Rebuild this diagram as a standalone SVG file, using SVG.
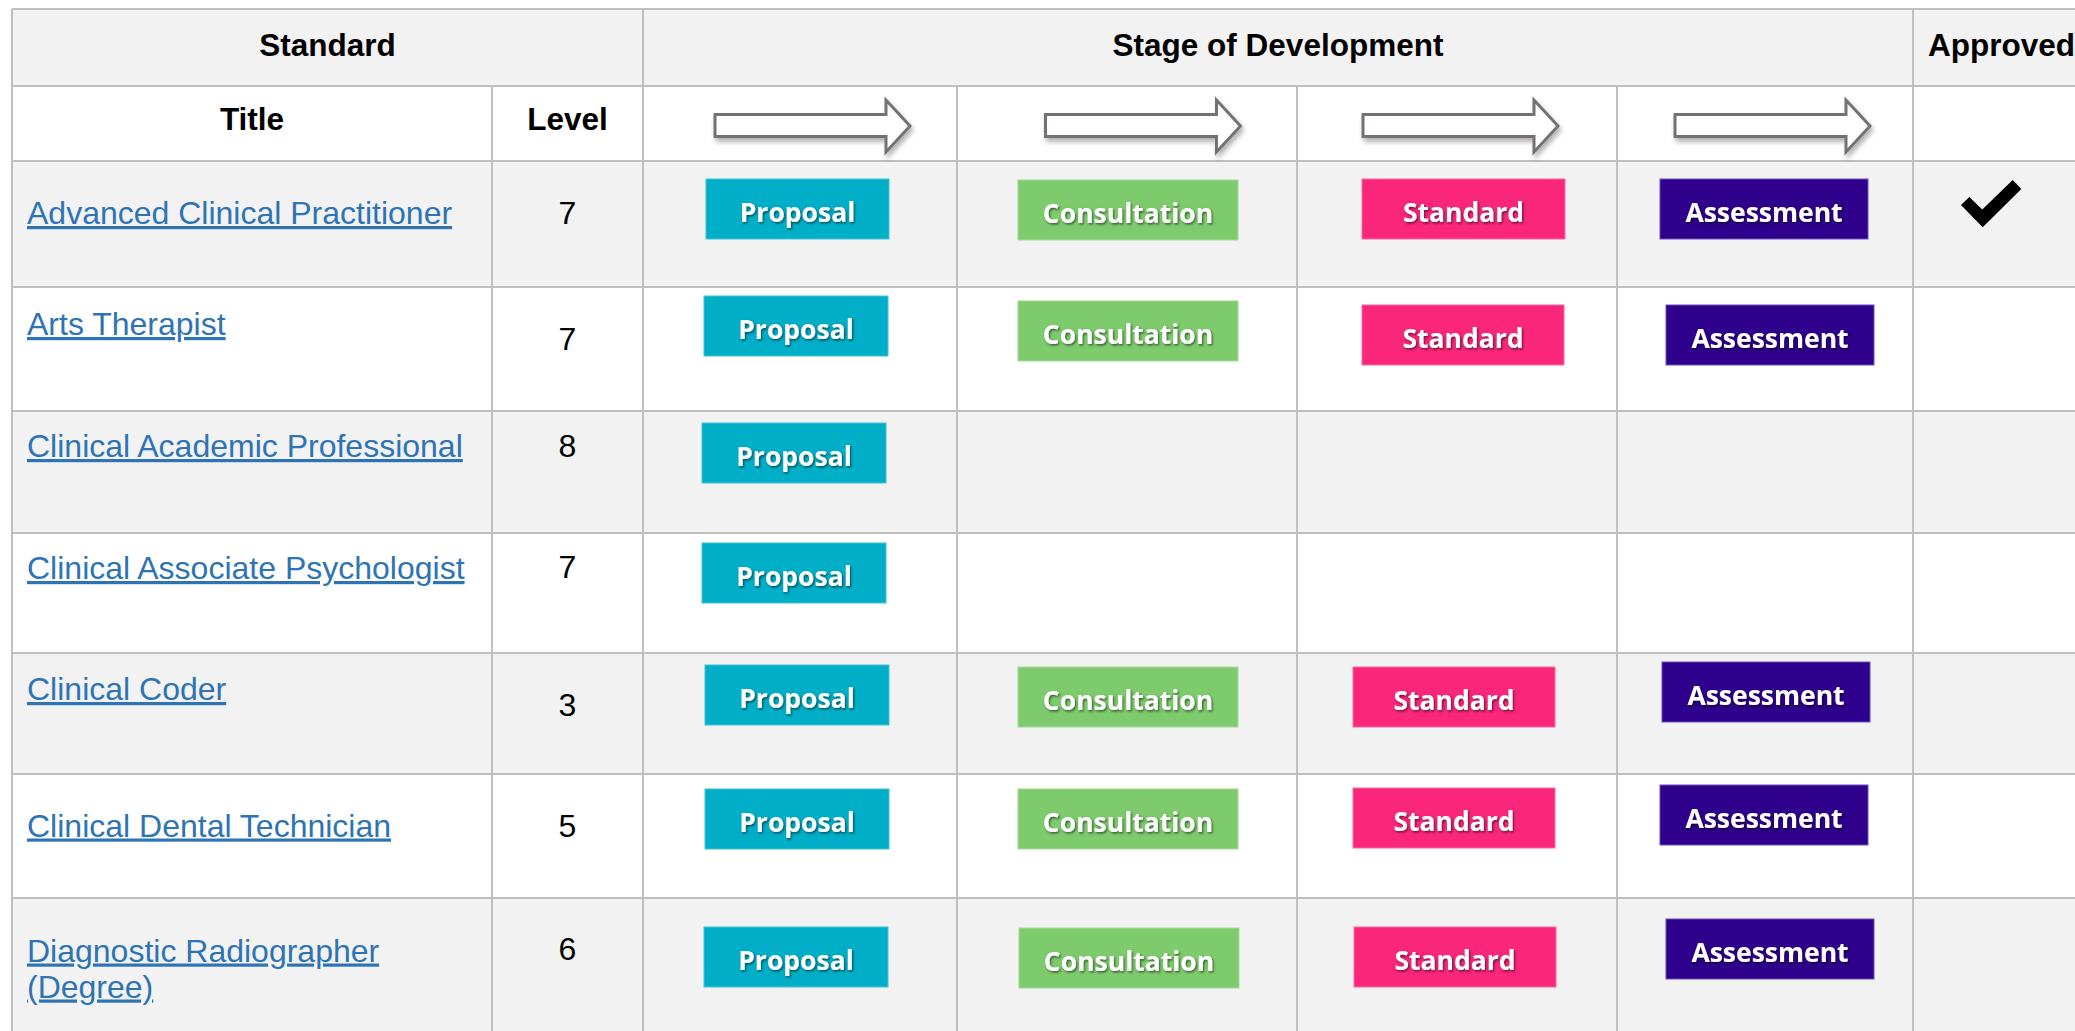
<svg xmlns="http://www.w3.org/2000/svg" width="2075" height="1031" viewBox="0 0 2075 1031">
<defs>
<style>
.hdr{font-family:"Liberation Sans",Arial,sans-serif;font-size:31.5px;font-weight:bold;fill:#000}
.ttl{font-family:"Liberation Sans",Arial,sans-serif;font-size:32px;fill:#2E74B5;text-decoration:underline}
.lvl{font-family:"Liberation Sans",Arial,sans-serif;font-size:32px;fill:#000;text-anchor:middle}
.c{text-anchor:middle}
.grid{stroke:#BFBFBF;stroke-width:2;fill:none}
.bt{font-family:"Open Sans","Noto Sans",sans-serif;font-size:26.5px;font-weight:bold;fill:#fff;text-anchor:middle;filter:url(#tsh)}
.pro{fill:#00AEC7;stroke:#40C4D6;stroke-width:1}
.con{fill:#7DCB6C;stroke:#A5DA98;stroke-width:1}
.std{fill:#F92679;stroke:#FB6AA3;stroke-width:1}
.ass{fill:#2E008B;stroke:#6A4FC0;stroke-width:1}
.arr{fill:#fff;stroke:#767171;stroke-width:3;filter:url(#ash)}
</style>
<filter id="tsh" x="-10%" y="-20%" width="120%" height="150%">
<feDropShadow dx="1.2" dy="1.5" stdDeviation="0.9" flood-color="#000" flood-opacity="0.55"/>
</filter>
<filter id="ash" x="-10%" y="-30%" width="130%" height="180%">
<feDropShadow dx="2" dy="4" stdDeviation="2.5" flood-color="#000" flood-opacity="0.3"/>
</filter>
<path id="arrow" d="M0,114.5 H171 V100 L195,126 L171,152 V136.5 H0 Z"/>
</defs>

<g id="backgrounds">
<rect x="12" y="9" width="2063" height="77" fill="#F2F2F2"/>
<rect x="12" y="86" width="2063" height="75" fill="#FFFFFF"/>
<rect x="12" y="161" width="2063" height="126" fill="#F2F2F2"/>
<rect x="12" y="287" width="2063" height="124" fill="#FFFFFF"/>
<rect x="12" y="411" width="2063" height="122" fill="#F2F2F2"/>
<rect x="12" y="533" width="2063" height="120" fill="#FFFFFF"/>
<rect x="12" y="653" width="2063" height="121" fill="#F2F2F2"/>
<rect x="12" y="774" width="2063" height="124" fill="#FFFFFF"/>
<rect x="12" y="898" width="2063" height="133" fill="#F2F2F2"/>
</g>

<g id="grid" class="grid">
<path d="M12,9 H2075 M12,86 H2075 M12,161 H2075 M12,287 H2075 M12,411 H2075 M12,533 H2075 M12,653 H2075 M12,774 H2075 M12,898 H2075"/>
<path d="M12,9 V1031 M643,9 V1031 M1913,9 V1031 M492,86 V1031 M957,86 V1031 M1297,86 V1031 M1617,86 V1031"/>
</g>

<g id="header">
<text class="hdr c" x="327.5" y="56">Standard</text>
<text class="hdr c" x="1278" y="56">Stage of Development</text>
<text class="hdr" x="1928" y="56">Approved</text>
<text class="hdr c" x="252" y="130">Title</text>
<text class="hdr c" x="567.5" y="130">Level</text>
</g>

<g id="stage-arrows">
<use href="#arrow" class="arr" x="715"/>
<use href="#arrow" class="arr" x="1045.5"/>
<use href="#arrow" class="arr" x="1363"/>
<use href="#arrow" class="arr" x="1675"/>
</g>

<g id="row1">
<text class="ttl" x="27" y="224">Advanced Clinical Practitioner</text>
<text class="lvl" x="567.5" y="224">7</text>
<g id="r1-proposal"><rect class="pro" x="706" y="179" width="183" height="60"/><text class="bt" x="797.5" y="222">Proposal</text></g>
<g id="r1-consultation"><rect class="con" x="1018" y="180" width="220" height="60"/><text class="bt" x="1128" y="223">Consultation</text></g>
<g id="r1-standard"><rect class="std" x="1362" y="179" width="203" height="60"/><text class="bt" x="1463.5" y="222">Standard</text></g>
<g id="r1-assessment"><rect class="ass" x="1660" y="179" width="208" height="60"/><text class="bt" x="1764" y="222">Assessment</text></g>
<g id="r1-approved"><polygon points="1961,205 1969.3,197 1982.3,209.5 2012.7,180 2021.3,189 1982.7,227.3" fill="#000"/></g>
</g>

<g id="row2">
<text class="ttl" x="27" y="335">Arts Therapist</text>
<text class="lvl" x="567.5" y="350">7</text>
<g id="r2-proposal"><rect class="pro" x="704" y="296" width="184" height="60"/><text class="bt" x="796" y="339">Proposal</text></g>
<g id="r2-consultation"><rect class="con" x="1018" y="301" width="220" height="60"/><text class="bt" x="1128" y="344">Consultation</text></g>
<g id="r2-standard"><rect class="std" x="1362" y="305" width="202" height="60"/><text class="bt" x="1463" y="348">Standard</text></g>
<g id="r2-assessment"><rect class="ass" x="1666" y="305" width="208" height="60"/><text class="bt" x="1770" y="348">Assessment</text></g>
</g>

<g id="row3">
<text class="ttl" x="27" y="457">Clinical Academic Professional</text>
<text class="lvl" x="567.5" y="457">8</text>
<g id="r3-proposal"><rect class="pro" x="702" y="423" width="184" height="60"/><text class="bt" x="794" y="466">Proposal</text></g>
</g>

<g id="row4">
<text class="ttl" x="27" y="579">Clinical Associate Psychologist</text>
<text class="lvl" x="567.5" y="578">7</text>
<g id="r4-proposal"><rect class="pro" x="702" y="543" width="184" height="60"/><text class="bt" x="794" y="586">Proposal</text></g>
</g>

<g id="row5">
<text class="ttl" x="27" y="700">Clinical Coder</text>
<text class="lvl" x="567.5" y="715.5">3</text>
<g id="r5-proposal"><rect class="pro" x="705" y="665" width="184" height="60"/><text class="bt" x="797" y="708">Proposal</text></g>
<g id="r5-consultation"><rect class="con" x="1018" y="667" width="220" height="60"/><text class="bt" x="1128" y="710">Consultation</text></g>
<g id="r5-standard"><rect class="std" x="1353" y="667" width="202" height="60"/><text class="bt" x="1454" y="710">Standard</text></g>
<g id="r5-assessment"><rect class="ass" x="1662" y="662" width="208" height="60"/><text class="bt" x="1766" y="705">Assessment</text></g>
</g>

<g id="row6">
<text class="ttl" x="27" y="836.5">Clinical Dental Technician</text>
<text class="lvl" x="567.5" y="836.5">5</text>
<g id="r6-proposal"><rect class="pro" x="705" y="789" width="184" height="60"/><text class="bt" x="797" y="832">Proposal</text></g>
<g id="r6-consultation"><rect class="con" x="1018" y="789" width="220" height="60"/><text class="bt" x="1128" y="832">Consultation</text></g>
<g id="r6-standard"><rect class="std" x="1353" y="788" width="202" height="60"/><text class="bt" x="1454" y="831">Standard</text></g>
<g id="r6-assessment"><rect class="ass" x="1660" y="785" width="208" height="60"/><text class="bt" x="1764" y="828">Assessment</text></g>
</g>

<g id="row7">
<text class="ttl" x="27" y="961.5">Diagnostic Radiographer</text>
<text class="ttl" x="27" y="997.5">(Degree)</text>
<text class="lvl" x="567.5" y="960">6</text>
<g id="r7-proposal"><rect class="pro" x="704" y="927" width="184" height="60"/><text class="bt" x="796" y="970">Proposal</text></g>
<g id="r7-consultation"><rect class="con" x="1019" y="928" width="220" height="60"/><text class="bt" x="1129" y="971">Consultation</text></g>
<g id="r7-standard"><rect class="std" x="1354" y="927" width="202" height="60"/><text class="bt" x="1455" y="970">Standard</text></g>
<g id="r7-assessment"><rect class="ass" x="1666" y="919" width="208" height="60"/><text class="bt" x="1770" y="962">Assessment</text></g>
</g>
</svg>
